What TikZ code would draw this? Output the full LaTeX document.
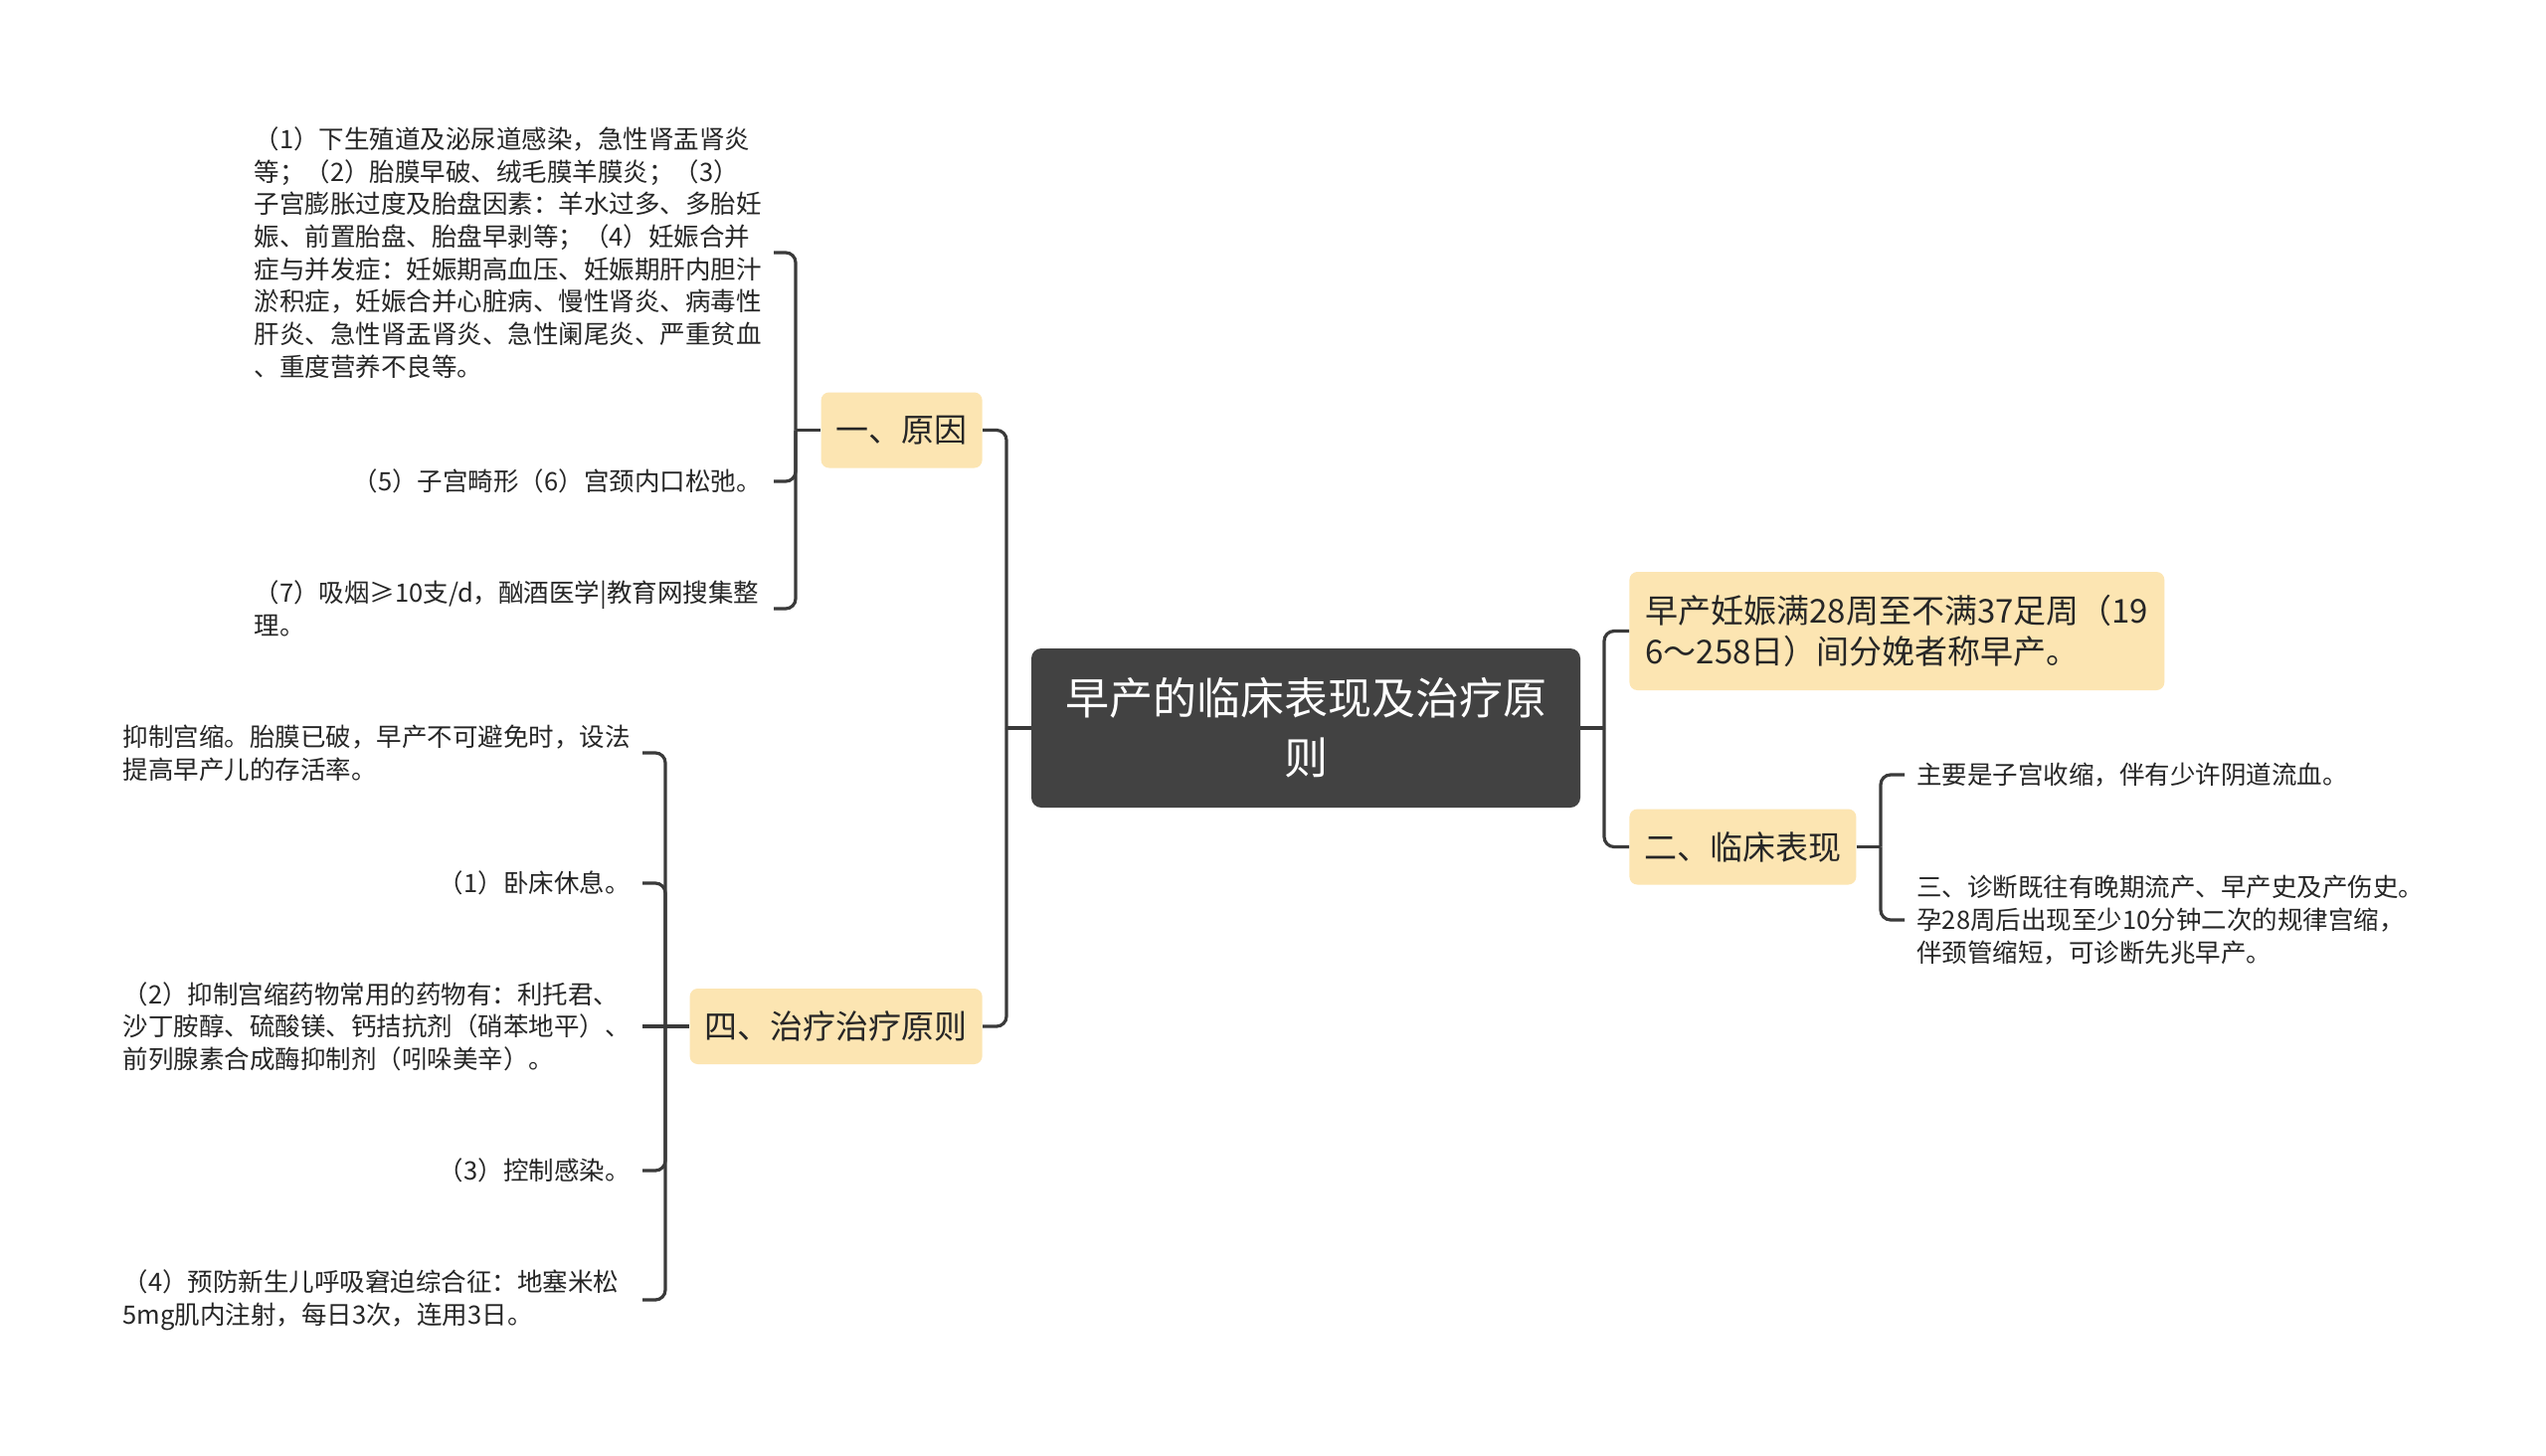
\documentclass[tikz,border=0pt]{standalone}
\usepackage{fontspec}
\setmainfont{Noto Sans CJK SC}
\usepackage{tikz}
\usetikzlibrary{positioning}
\definecolor{mmroot}{HTML}{424242}
\definecolor{mmtopic}{HTML}{FCE5B2}
\definecolor{mmline}{HTML}{3A3A3A}
\definecolor{mmtext}{HTML}{262626}

\begin{document}
\begin{tikzpicture}[x=0.5pt, y=-0.5pt,
  root/.style={fill=mmroot, rounded corners=5pt, text=white, align=center,
               minimum width=276pt, minimum height=80pt,
               font=\fontsize{22pt}{30pt}\selectfont},
  topic/.style={fill=mmtopic, rounded corners=4pt, text=mmtext, align=left,
                inner xsep=7.5pt, minimum height=38pt,
                font=\fontsize{16.5pt}{20.5pt}\selectfont},
  leaf/.style={text=mmtext, align=left, inner xsep=6pt, inner ysep=0pt,
               font=\fontsize{12.75pt}{16.35pt}\selectfont},
  wrapped/.style={leaf, text width=255pt},
  link/.style={draw=mmline, line width=1.6pt, rounded corners=5pt},
]
  \useasboundingbox[fill=white] (0,0) rectangle (2560,1463);

  % Central topic and the two trunk hubs.
  \node[root] (root) at (1313,732) {早产的临床表现及治疗原\\则};
  \coordinate (lhub) at (1012,732);
  \coordinate (rhub) at (1613,732);

  % Left branches.
  \node[topic, anchor=east] (cause) at (988,432.5) {一、原因};
  \node[topic, anchor=east] (cure) at (988,1032) {四、治疗治疗原则};

  \node[wrapped, anchor=east] (cause-a) at (778,254) {（1）下生殖道及泌尿道感染，急性肾盂肾炎\\
    等；（2）胎膜早破、绒毛膜羊膜炎；（3）\\
    子宫膨胀过度及胎盘因素：羊水过多、多胎妊\\
    娠、前置胎盘、胎盘早剥等；（4）妊娠合并\\
    症与并发症：妊娠期高血压、妊娠期肝内胆汁\\
    淤积症，妊娠合并心脏病、慢性肾炎、病毒性\\
    肝炎、急性肾盂肾炎、急性阑尾炎、严重贫血\\
    、重度营养不良等。};
  \node[leaf, anchor=east] (cause-b) at (778,484) {（5）子宫畸形（6）宫颈内口松弛。};
  \node[wrapped, anchor=east] (cause-c) at (778,612) {（7）吸烟≥10支/d，酗酒医学|教育网搜集整\\理。};
  \coordinate (causehub) at (800,432.5);

  \node[wrapped, anchor=east] (cure-a) at (646,757) {抑制宫缩。胎膜已破，早产不可避免时，设法\\提高早产儿的存活率。};
  \node[leaf, anchor=east] (cure-b) at (646,888) {（1）卧床休息。};
  \node[wrapped, anchor=east] (cure-c) at (646,1032) {（2）抑制宫缩药物常用的药物有：利托君、\\
    沙丁胺醇、硫酸镁、钙拮抗剂（硝苯地平）、\\
    前列腺素合成酶抑制剂（吲哚美辛）。};
  \node[leaf, anchor=east] (cure-d) at (646,1177) {（3）控制感染。};
  \node[wrapped, anchor=east] (cure-e) at (646,1307) {（4）预防新生儿呼吸窘迫综合征：地塞米松\\5mg肌内注射，每日3次，连用3日。};
  \coordinate (curehub) at (669,1032);

  % Right branches.
  \node[topic, anchor=west, inner xsep=8pt, minimum height=59.5pt] (define) at (1638,634.5)
    {早产妊娠满28周至不满37足周（19\\6～258日）间分娩者称早产。};
  \node[topic, anchor=west] (clinic) at (1638,851.5) {二、临床表现};

  \node[leaf, anchor=west] (clinic-a) at (1915,779) {主要是子宫收缩，伴有少许阴道流血。};
  \node[leaf, anchor=west] (clinic-b) at (1915,925) {三、诊断既往有晚期流产、早产史及产伤史。\\
    孕28周后出现至少10分钟二次的规律宫缩，\\
    伴颈管缩短，可诊断先兆早产。};
  \coordinate (clinichub) at (1891,851.5);

  % Connectors.
  \draw[link] (root.west) -- (lhub);
  \draw[link] (root.east) -- (rhub);
  \draw[link] (lhub) |- (cause.east);
  \draw[link] (lhub) |- (cure.east);
  \draw[link] (rhub) |- (define.west);
  \draw[link] (rhub) |- (clinic.west);

  \draw[link] (cause.west) -- (causehub);
  \foreach \n in {cause-a,cause-b,cause-c}
    \draw[link] (causehub) |- (\n.east);

  \draw[link] (cure.west) -- (curehub) -- (cure-c.east);
  \foreach \n in {cure-a,cure-b,cure-d,cure-e}
    \draw[link] (curehub) |- (\n.east);

  \draw[link] (clinic.east) -- (clinichub);
  \foreach \n in {clinic-a,clinic-b}
    \draw[link] (clinichub) |- (\n.west);
\end{tikzpicture}
\end{document}
